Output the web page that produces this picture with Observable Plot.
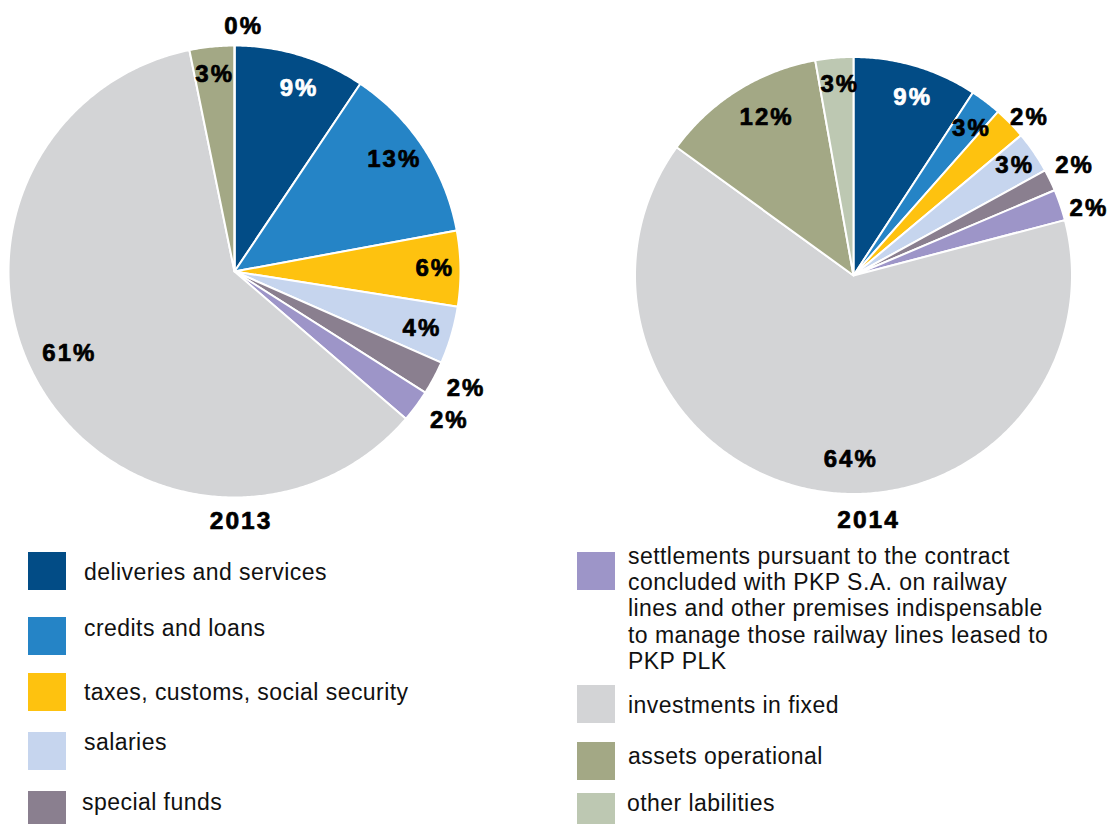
<!DOCTYPE html>
<html><head><meta charset="utf-8">
<script src="https://cdn.jsdelivr.net/npm/d3@7"></script>
<script src="https://cdn.jsdelivr.net/npm/@observablehq/plot@0.6"></script>
<style>
body{margin:0;background:#fff;font-family:"Liberation Sans",Arial,sans-serif;}
#wrap{position:relative;width:1109px;height:824px;overflow:hidden}
#legend{position:absolute;left:0;top:0;width:1109px;height:824px}
#chart svg text{letter-spacing:2px}
.sw{position:absolute;width:38px;height:38px}
.lt{position:absolute;font-size:23px;line-height:26.3px;color:#111;white-space:pre;letter-spacing:0.45px}
</style></head><body><div id="wrap"><div id="chart"></div><div id="legend"></div></div>
<script>
// ---- data ----
const categories = [
  "deliveries and services",
  "credits and loans",
  "taxes, customs, social security",
  "salaries",
  "special funds",
  "settlements pursuant to the contract concluded with PKP S.A. on railway lines and other premises indispensable to manage those railway lines leased to PKP PLK",
  "investments in fixed",
  "assets operational",
  "other labilities"
];
const legendText = [
  "deliveries and services",
  "credits and loans",
  "taxes, customs, social security",
  "salaries",
  "special funds",
  "settlements pursuant to the contract\nconcluded with PKP S.A. on railway\nlines and other premises indispensable\nto manage those railway lines leased to\nPKP PLK",
  "investments in fixed",
  "assets operational",
  "other labilities"
];
const colors = ["#024c86","#2584c6","#fec20f","#c6d5ee","#8a7f8f","#9d95c8","#d3d4d6","#a3a885","#bdc8b2"];
const years = ["2013","2014"];
const values2013 = [9.4, 12.7, 5.4, 4.1, 2.4, 2.3, 60.5, 3.2, 0];
const values2014 = [9.2, 2.3, 2.4, 3.1, 1.6, 2.3, 64.0, 12.2, 2.8];
const labels2013 = ["9%","13%","6%","4%","2%","2%","61%","3%","0%"];
const labels2014 = ["9%","3%","2%","3%","2%","2%","64%","12%","3%"];

// ---- layout (label radius factor, angle shift in degrees) ----
const labLayout2013 = [[0.86,2],[0.86,-2.2],[0.88,-0.3],[0.86,0.6],[1.14,-1.3],[1.15,-1.7],[0.82,4.5],[0.88,-0.4],[1.087,1.8]];
const labLayout2014 = [[0.86,1.3],[0.86,1],[1.08,1.9],[0.89,-0.5],[1.125,-0.9],[1.115,2.6],[0.84,-9.3],[0.83,2.9],[0.88,0.5]];

const W = 1109, H = 540;
const pies = [
  {year: years[0], values: values2013, labels: labels2013, lab: labLayout2013, cx: 234.5, cy: 271.5, r: 226, ydx: 5, ydy: 249},
  {year: years[1], values: values2014, labels: labels2014, lab: labLayout2014, cx: 853.5, cy: 275.5, r: 218.5, ydx: 13.5, ydy: 244.5}
];

const slices = [], texts = [], yearTexts = [];
for (const p of pies) {
  const arcs = d3.pie().sort(null).value(d => d)(p.values);
  arcs.forEach((a, i) => {
    const span = a.endAngle - a.startAngle;
    const n = Math.max(2, Math.ceil(span * 180 / Math.PI * 2));
    for (let k = 0; k <= n; k++) {
      const t = a.startAngle + span * k / n;
      slices.push({key: p.year + "-" + i, category: categories[i],
        x1: p.cx, y1: p.cy, x2: p.cx + p.r * Math.sin(t), y2: p.cy - p.r * Math.cos(t)});
    }
    const [f, shift] = p.lab[i];
    const m = (a.startAngle + a.endAngle) / 2 + shift * Math.PI / 180;
    texts.push({x: p.cx + f * p.r * Math.sin(m), y: p.cy - f * p.r * Math.cos(m), text: p.labels[i], white: i === 0});
  });
  yearTexts.push({x: p.cx + p.ydx, y: p.cy + p.ydy, text: p.year});
}

const labelStyle = {fontSize: 24, fontWeight: "bold", strokeWidth: 0.7, dx: 1};
const chart = Plot.plot({
  width: W, height: H, margin: 0,
  x: {domain: [0, W], range: [0, W], axis: null},
  y: {domain: [0, H], range: [0, H], axis: null},
  color: {domain: categories, range: colors},
  style: {fontFamily: "'Liberation Sans', Arial, sans-serif", background: "white"},
  marks: [
    Plot.area(slices, {x1: "x1", y1: "y1", x2: "x2", y2: "y2", z: "key", fill: "category",
      stroke: "white", strokeWidth: 2, strokeLinejoin: "round", curve: "linear"}),
    Plot.text(texts.filter(d => !d.white), {x: "x", y: "y", text: "text", fill: "black", stroke: "black", ...labelStyle}),
    Plot.text(texts.filter(d => d.white), {x: "x", y: "y", text: "text", fill: "white", stroke: "white", ...labelStyle}),
    Plot.text(yearTexts, {x: "x", y: "y", text: "text", fill: "black", stroke: "black", ...labelStyle, fontSize: 24.5})
  ]
});
document.getElementById("chart").appendChild(chart);

// ---- legend (HTML) ----
const legendPos = [
  {sx: 28, sy: 552, tx: 84, ty: 572},
  {sx: 28, sy: 617, tx: 84, ty: 628},
  {sx: 28, sy: 673, tx: 84, ty: 692},
  {sx: 28, sy: 732, tx: 84, ty: 742},
  {sx: 28, sy: 791, tx: 82, ty: 802},
  {sx: 577, sy: 552, tx: 628, ty: 556},
  {sx: 577, sy: 685, tx: 628, ty: 705},
  {sx: 577, sy: 742, tx: 628, ty: 756},
  {sx: 577, sy: 793, tx: 627, ty: 803}
];
const legend = document.getElementById("legend");
categories.forEach((c, i) => {
  const p = legendPos[i];
  const sw = document.createElement("div");
  sw.className = "sw";
  sw.style.left = p.sx + "px"; sw.style.top = p.sy + "px";
  sw.style.background = colors[i];
  legend.appendChild(sw);
  const t = document.createElement("div");
  t.className = "lt";
  t.style.left = p.tx + "px"; t.style.top = (p.ty - 13.15) + "px";
  t.textContent = legendText[i];
  legend.appendChild(t);
});
</script>
</body></html>
